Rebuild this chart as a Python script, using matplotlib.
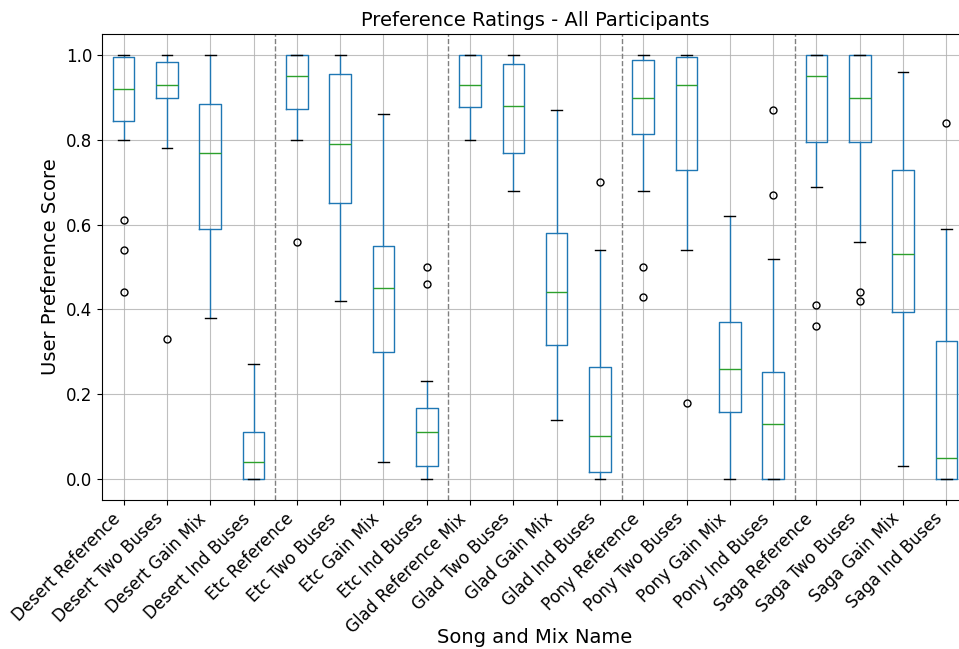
import matplotlib
matplotlib.use("Agg")
import matplotlib.pyplot as plt

labels = [
    "Desert Reference", "Desert Two Buses", "Desert Gain Mix", "Desert Ind Buses",
    "Etc Reference", "Etc Two Buses", "Etc Gain Mix", "Etc Ind Buses",
    "Glad Reference Mix", "Glad Two Buses", "Glad Gain Mix", "Glad Ind Buses",
    "Pony Reference", "Pony Two Buses", "Pony Gain Mix", "Pony Ind Buses",
    "Saga Reference", "Saga Two Buses", "Saga Gain Mix", "Saga Ind Buses",
]
whislo = [0.80, 0.78, 0.38, 0.00,
          0.80, 0.42, 0.04, 0.00,
          0.80, 0.68, 0.14, 0.00,
          0.68, 0.54, 0.00, 0.00,
          0.69, 0.56, 0.03, 0.00]
q1 = [0.845, 0.898, 0.59, 0.00,
      0.874, 0.65, 0.30, 0.03,
      0.878, 0.77, 0.315, 0.016,
      0.813, 0.73, 0.157, 0.00,
      0.794, 0.794, 0.394, 0.00]
med = [0.92, 0.93, 0.77, 0.04,
       0.95, 0.79, 0.45, 0.11,
       0.93, 0.88, 0.44, 0.10,
       0.90, 0.93, 0.26, 0.13,
       0.95, 0.90, 0.53, 0.05]
q3 = [0.995, 0.983, 0.884, 0.111,
      1.00, 0.955, 0.55, 0.166,
      1.00, 0.979, 0.58, 0.265,
      0.989, 0.995, 0.37, 0.251,
      1.00, 1.00, 0.73, 0.326]
whishi = [1.00, 1.00, 1.00, 0.27,
          1.00, 1.00, 0.86, 0.23,
          1.00, 1.00, 0.87, 0.54,
          1.00, 1.00, 0.62, 0.52,
          1.00, 1.00, 0.96, 0.59]
fliers = [[0.61, 0.54, 0.44], [0.33], [], [],
          [0.56], [], [], [0.50, 0.46],
          [], [], [], [0.70],
          [0.50, 0.43], [0.18], [], [0.87, 0.67],
          [0.41, 0.36], [0.44, 0.42], [], [0.84]]
separators = [4.5, 8.5, 12.5, 16.5]

stats = []
for i, lab in enumerate(labels):
    stats.append(dict(label=lab, whislo=whislo[i], q1=q1[i], med=med[i],
                      q3=q3[i], whishi=whishi[i], fliers=fliers[i]))

fig = plt.figure(figsize=(9.59, 6.49), dpi=100)
ax = fig.add_axes([102/959, (649-500)/649, (968-102)/959, (500-34)/649])

blue = "#1f77b4"
ax.bxp(stats, positions=range(1, len(labels) + 1), widths=0.5,
       boxprops=dict(color=blue, linewidth=1),
       whiskerprops=dict(color=blue, linewidth=1),
       capprops=dict(color="black", linewidth=1),
       medianprops=dict(color="#2ca02c", linewidth=1),
       flierprops=dict(marker="o", markerfacecolor="none",
                       markeredgecolor="black", markersize=5, linewidth=0))

ax.grid(True, color="#b0b0b0", linewidth=0.8, alpha=0.8)
ax.set_axisbelow(True)
for s in separators:
    ax.axvline(s, color="gray", linestyle="--", linewidth=1)

ax.set_xlim(0.5, len(labels) + 0.5)
ax.set_ylim(-0.05, 1.05)
ax.set_yticks([0.0, 0.2, 0.4, 0.6, 0.8, 1.0])
ax.set_xticks(range(1, len(labels) + 1))
ax.set_xticklabels(labels, rotation=45, ha="right", fontsize=12)
ax.tick_params(axis="y", labelsize=12)
ax.set_title("Preference Ratings - All Participants", fontsize=14)
ax.set_xlabel("Song and Mix Name", fontsize=14)
ax.xaxis.set_label_coords(0.5, -0.275)
ax.set_ylabel("User Preference Score", fontsize=14)

fig.savefig("out.png", dpi=100)
